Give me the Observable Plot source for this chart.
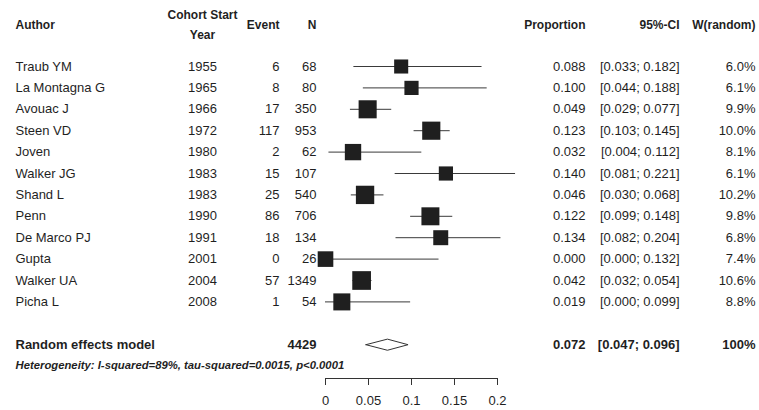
<!DOCTYPE html>
<html>
<head>
<meta charset="utf-8">
<script src="https://cdn.jsdelivr.net/npm/d3@7"></script>
<script src="https://cdn.jsdelivr.net/npm/@observablehq/plot@0.6"></script>
<style>
  html, body { margin: 0; padding: 0; background: #fff; }
  svg { display: block; }
</style>
</head>
<body>
<div id="chart"></div>
<script>
// ---- data ----
const authors = ["Traub YM","La Montagna G","Avouac J","Steen VD","Joven","Walker JG","Shand L","Penn","De Marco PJ","Gupta","Walker UA","Picha L"];
const years   = [1955,1965,1966,1972,1980,1983,1983,1990,1991,2001,2004,2008];
const events  = [6,8,17,117,2,15,25,86,18,0,57,1];
const ns      = [68,80,350,953,62,107,540,706,134,26,1349,54];
const props   = [0.088,0.100,0.049,0.123,0.032,0.140,0.046,0.122,0.134,0.000,0.042,0.019];
const lows    = [0.033,0.044,0.029,0.103,0.004,0.081,0.030,0.099,0.082,0.000,0.032,0.000];
const highs   = [0.182,0.188,0.077,0.145,0.112,0.221,0.068,0.148,0.204,0.132,0.054,0.099];
const weights = [6.0,6.1,9.9,10.0,8.1,6.1,10.2,9.8,6.8,7.4,10.6,8.8];

const pooledLabel = "Random effects model";
const pooledN = 4429;
const pooledProp = 0.072, pooledLow = 0.047, pooledHigh = 0.096;
const pooledWeight = "100%";
const heterogeneity = "Heterogeneity: I-squared=89%, tau-squared=0.0015, p<0.0001";
const xTicks = [0, 0.05, 0.1, 0.15, 0.2];

const headerCols = [
  {label: "Author", x: 15, y: 25, anchor: "start"},
  {label: "Cohort Start", x: 202, y: 15, anchor: "middle"},
  {label: "Year", x: 202, y: 35, anchor: "middle"},
  {label: "Event", x: 279, y: 25, anchor: "end"},
  {label: "N", x: 316, y: 25, anchor: "end"},
  {label: "Proportion", x: 585, y: 25, anchor: "end"},
  {label: "95%-CI", x: 679, y: 25, anchor: "end"},
  {label: "W(random)", x: 755, y: 25, anchor: "end"}
];

// ---- build table ----
const rows = authors.map((a, i) => ({
  i, author: a, year: String(years[i]), event: String(events[i]), n: String(ns[i]),
  prop: props[i], lo: lows[i], hi: highs[i], w: weights[i]
}));
const pooledRow = rows.length + 1;
const pooled = [{i: pooledRow, prop: pooledProp, lo: pooledLow, hi: pooledHigh}];
const diamondHalf = 0.26;
const diamond = pooled.flatMap(d => [
  {x: d.lo, y: d.i}, {x: d.prop, y: d.i - diamondHalf},
  {x: d.hi, y: d.i}, {x: d.prop, y: d.i + diamondHalf}, {x: d.lo, y: d.i}
]);

const W = 759, H = 410;
const ML = 325, MR = 262;
const ink = "#1f1f1f";
const f3 = v => v.toFixed(3);

function col(data, text, xpx, anchor, extra = {}) {
  return Plot.text(data, {
    y: "i", text, frameAnchor: "left", dx: xpx - ML,
    textAnchor: anchor, lineAnchor: "middle", fill: ink, fontSize: 13, ...extra
  });
}

const headerMarks = headerCols.map(h =>
  Plot.text([h.label], {
    text: d => d, frameAnchor: "top-left", dx: h.x - ML, dy: h.y,
    textAnchor: h.anchor, lineAnchor: "middle", fontWeight: "bold", fontSize: 12, fill: ink
  })
);

const chart = Plot.plot({
  width: W, height: H,
  marginLeft: ML, marginRight: MR, marginTop: 0, marginBottom: 32,
  style: {fontFamily: "Arial, 'Liberation Sans', sans-serif", fontSize: "13px", background: "#fff"},
  x: {domain: [xTicks[0], xTicks[xTicks.length - 1]]},
  y: {domain: [0, rows.length - 1], range: [66, 301.4], axis: null},
  r: {domain: [0, 10.6], range: [0, 10.55]},
  marks: [
    ...headerMarks,
    col(rows, "author", 15, "start"),
    col(rows, "year", 202, "middle"),
    col(rows, "event", 279, "end"),
    col(rows, "n", 316, "end"),
    col(rows, d => f3(d.prop), 585, "end"),
    col(rows, d => `[${f3(d.lo)}; ${f3(d.hi)}]`, 679, "end"),
    col(rows, d => d.w.toFixed(1) + "%", 755, "end"),
    col(pooled, () => pooledLabel, 15, "start", {fontWeight: "bold"}),
    col(pooled, () => String(pooledN), 316, "end", {fontWeight: "bold"}),
    col(pooled, d => f3(d.prop), 585, "end", {fontWeight: "bold"}),
    col(pooled, d => `[${f3(d.lo)}; ${f3(d.hi)}]`, 679, "end", {fontWeight: "bold"}),
    col(pooled, () => pooledWeight, 755, "end", {fontWeight: "bold"}),
    Plot.text([heterogeneity], {
      text: d => d, frameAnchor: "top-left", dx: 15 - ML, dy: 364.5,
      textAnchor: "start", lineAnchor: "middle", fontWeight: "bold", fontStyle: "italic", fontSize: 11.3, fill: ink
    }),
    Plot.ruleY(rows, {y: "i", x1: "lo", x2: "hi", stroke: "#3a3a3a", strokeWidth: 1}),
    Plot.dot(rows, {x: "prop", y: "i", r: "w", symbol: "square", fill: ink, stroke: null}),
    Plot.line(diamond, {x: "x", y: "y", fill: "white", stroke: "#333", strokeWidth: 1}),
    Plot.frame({anchor: "bottom", stroke: "#333"}),
    Plot.axisX(xTicks, {anchor: "bottom", tickSize: 7, tickPadding: 10, fontSize: 13, fill: ink, stroke: "#333", label: null, tickFormat: d => String(d)})
  ]
});
document.getElementById("chart").appendChild(chart);
</script>
</body>
</html>
